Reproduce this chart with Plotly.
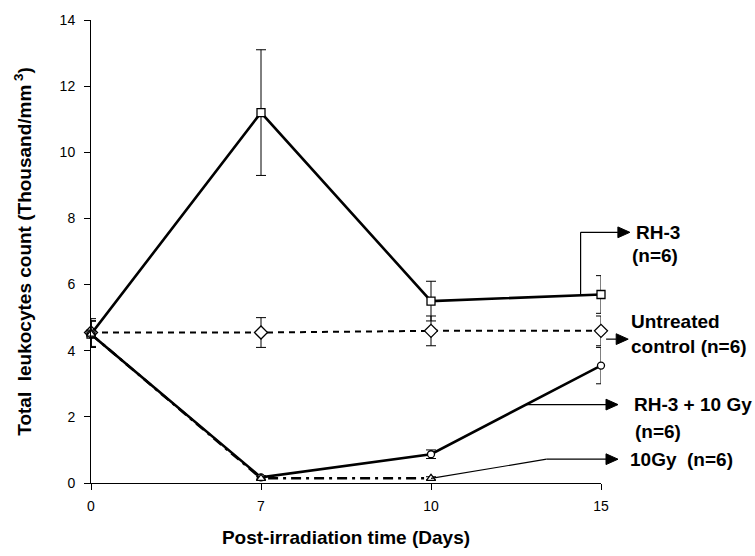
import plotly.graph_objects as go

# ---- data ----
days = ["0", "7", "10", "15"]
rh3 = [4.5, 11.2, 5.5, 5.7]
rh3_err = [0.4, 1.9, 0.6, 0.57]
control = [4.55, 4.55, 4.6, 4.6]
control_err = [0.42, 0.45, 0.45, 0.45]
rh3_10gy = [4.5, 0.17, 0.87, 3.55]
rh3_10gy_err = [0.4, 0.05, 0.13, 0.55]
gy10 = [4.5, 0.14, 0.14, None]
gy10_err = [0.4, 0.05, 0.05, None]
y_ticks = [0, 2, 4, 6, 8, 10, 12, 14]

xs = list(range(len(days)))
X_RANGE = [0, len(days) - 1]
Y_RANGE = [0, 14]

W, H = 755, 556
M = dict(l=91, r=154, t=16, b=67)
PW = W - M["l"] - M["r"]
PH = H - M["t"] - M["b"]

FONT = "Liberation Sans, Arial, sans-serif"
BLACK = "black"


def px(x):
    return (x - X_RANGE[0]) / (X_RANGE[1] - X_RANGE[0])


def py(y):
    return (y - Y_RANGE[0]) / (Y_RANGE[1] - Y_RANGE[0])


def interp(series, x):
    i = int(x)
    f = x - i
    return series[i] * (1 - f) + series[i + 1] * f


fig = go.Figure()


def add_series(y, err, symbol, size, dash, width, name):
    fig.add_trace(go.Scatter(
        x=xs, y=y, mode="lines+markers", name=name,
        line=dict(color=BLACK, width=width, dash=dash),
        marker=dict(symbol=symbol, size=size, color="white",
                    line=dict(color=BLACK, width=1.3)),
        error_y=dict(type="data", array=err, visible=True, color=BLACK,
                     thickness=1, width=5),
        cliponaxis=False, connectgaps=False,
    ))


add_series(control, control_err, "diamond", 10, "6px,5px", 2, "Untreated control")
add_series(rh3, rh3_err, "square", 8, "solid", 2.6, "RH-3")
add_series(rh3_10gy, rh3_10gy_err, "circle", 7, "solid", 2.6, "RH-3 + 10 Gy")
add_series(gy10, gy10_err, "triangle-up", 8, "10px,5px,3px,5px", 2.5, "10Gy")

annotations = []
shapes = []

# label text (positions in data units, beyond the plot's right edge)
LBL = dict(xref="paper", yref="paper", showarrow=False, xanchor="left", yanchor="middle",
           borderpad=0, borderwidth=0,
           font=dict(family=FONT, size=19, color=BLACK, weight="bold"))
labels = [
    ("RH-3", 3.205, 7.58),
    ("(n=6)", 3.185, 6.87),
    ("Untreated", 3.176, 4.87),
    ("control (n=6)", 3.176, 4.12),
    ("RH-3 + 10 Gy", 3.194, 2.37),
    ("(n=6)", 3.2, 1.55),
    ("10Gy  (n=6)", 3.17, 0.72),
]
for t, x, y in labels:
    annotations.append(dict(text=t, x=px(x), y=py(y), **LBL))


def seg(x0, y0, x1, y1):
    shapes.append(dict(type="line", xref="paper", yref="paper",
                       x0=px(x0), y0=py(y0), x1=px(x1), y1=py(y1),
                       line=dict(color=BLACK, width=1.2)))


HEAD_LEN, HEAD_HALF = 12, 5.5  # pixels


def arrow(x0, y0, x1, y1):
    """Horizontal pointer ending in a filled arrowhead at (x1, y1)."""
    xt, yt = px(x1), py(y1)
    xb = xt - HEAD_LEN / PW
    shapes.append(dict(type="line", xref="paper", yref="paper",
                       x0=px(x0), y0=py(y0), x1=xb, y1=yt,
                       line=dict(color=BLACK, width=1.2)))
    dy = HEAD_HALF / PH
    shapes.append(dict(type="path", xref="paper", yref="paper",
                       path=f"M {xt} {yt} L {xb} {yt + dy} L {xb} {yt - dy} Z",
                       fillcolor=BLACK, line=dict(color=BLACK, width=1)))


# RH-3 pointer
xa = 2.88
seg(xa, interp(rh3, xa), xa, 7.58)
arrow(xa, 7.58, 3.17, 7.58)
# Untreated control pointer
arrow(3.03, 4.35, 3.16, 4.35)
# RH-3 + 10 Gy pointer
xb = 2.56
yb = interp(rh3_10gy, xb)
arrow(xb, yb, 3.1, yb)
# 10Gy pointer
seg(2, gy10[2], 2.68, 0.72)
arrow(2.68, 0.72, 3.1, 0.72)

fig.update_layout(
    width=W, height=H,
    margin=M,
    paper_bgcolor="white", plot_bgcolor="white",
    showlegend=False,
    font=dict(family=FONT, color=BLACK),
    annotations=annotations, shapes=shapes,
)
fig.update_xaxes(
    range=X_RANGE, tickvals=xs, ticktext=days,
    showgrid=False, zeroline=False, showline=True, linecolor=BLACK, linewidth=1,
    ticks="outside", ticklen=6, tickcolor=BLACK, ticklabelstandoff=4,
    tickfont=dict(family=FONT, size=14, color=BLACK),
    title=dict(text="Post-irradiation time (Days)", standoff=17,
               font=dict(family=FONT, size=19, color=BLACK, weight="bold")),
)
fig.update_yaxes(
    range=Y_RANGE, tickvals=y_ticks,
    showgrid=False, zeroline=False, showline=True, linecolor=BLACK, linewidth=1,
    ticks="outside", ticklen=6, tickcolor=BLACK, ticklabelstandoff=6,
    tickfont=dict(family=FONT, size=14, color=BLACK),
    title=dict(text="Total  leukocytes count (Thousand/mm<sup> 3</sup>)", standoff=22,
               font=dict(family=FONT, size=19, color=BLACK, weight="bold")),
)

fig.write_html("out.html")
